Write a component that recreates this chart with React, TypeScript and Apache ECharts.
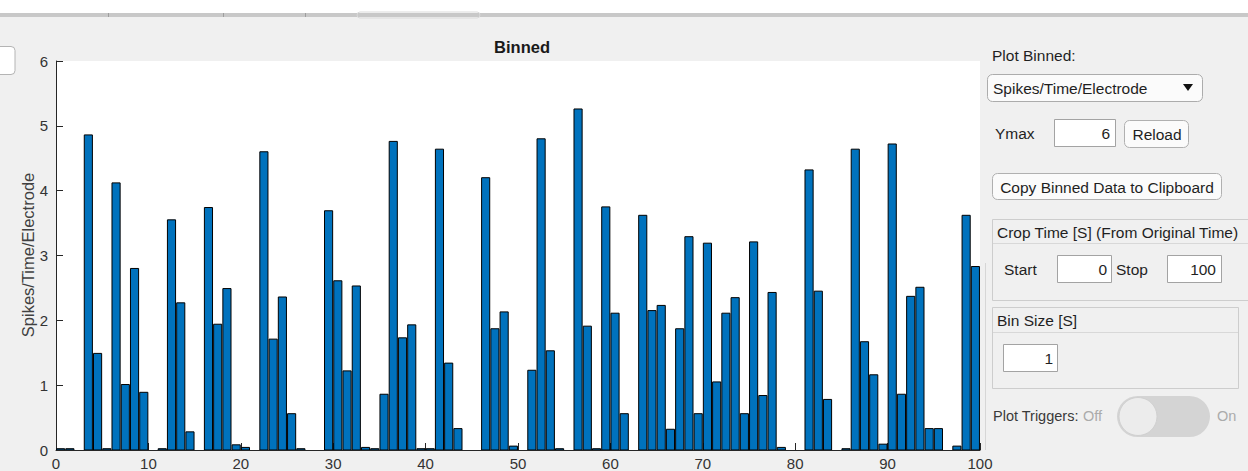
import { useEffect, useRef } from "react";
import * as echarts from "echarts";

// Binned spike rate (spikes / time / electrode), one value per 1 s bin from 0 to 100 s
const BIN_SIZE = 1;
const BAR_FRACTION = 0.88;
const spikeRates = [
  0.02, 0.02, 0, 4.86, 1.49, 0.02, 4.12, 1.01, 2.8, 0.89,
  0, 0.02, 3.55, 2.27, 0.28, 0, 3.74, 1.94, 2.49, 0.08,
  0.04, 0, 4.6, 1.71, 2.36, 0.56, 0.02, 0, 0, 3.69,
  2.61, 1.22, 2.53, 0.04, 0.02, 0.86, 4.76, 1.73, 1.93, 0.02,
  0.02, 4.64, 1.34, 0.33, 0, 0, 4.2, 1.87, 2.13, 0.06,
  0, 1.23, 4.8, 1.53, 0.02, 0, 5.26, 1.91, 0.02, 3.75,
  2.11, 0.56, 0, 3.62, 2.15, 2.23, 0.32, 1.87, 3.29, 0.56,
  3.19, 1.05, 2.11, 2.35, 0.56, 3.21, 0.84, 2.43, 0.04, 0,
  0, 4.32, 2.45, 0.78, 0, 0.02, 4.64, 1.67, 1.16, 0.09,
  4.72, 0.86, 2.37, 2.51, 0.33, 0.33, 0, 0.06, 3.62, 2.83,
];

// Axis limits and tick spacing
const X_MIN = 0;
const X_MAX = 100;
const X_STEP = 10;
const Y_MIN = 0;
const Y_MAX = 6;
const Y_STEP = 1;
const Y_LABEL = "Spikes/Time/Electrode";

// Side panel settings
const plotModes = ["Spikes/Time/Electrode"];
const cropStart = 0;
const cropStop = 100;

const FONT = "'Liberation Sans', Arial, Helvetica, sans-serif";
const UI_SIZE = 15.5;

function txt(
  x: number,
  y: number,
  text: string,
  opts: { color?: string; size?: number; align?: string; weight?: string } = {}
) {
  return {
    type: "text",
    x,
    y,
    silent: true,
    style: {
      text,
      fill: opts.color ?? "#1f1f1f",
      fontSize: opts.size ?? UI_SIZE,
      fontFamily: FONT,
      fontWeight: opts.weight ?? "normal",
      align: opts.align ?? "left",
      verticalAlign: "middle",
    },
  };
}

function box(
  x: number,
  y: number,
  w: number,
  h: number,
  opts: { fill?: string; stroke?: string; r?: number } = {}
) {
  return {
    type: "rect",
    silent: true,
    shape: { x, y, width: w, height: h, r: opts.r ?? 0 },
    style: {
      fill: opts.fill ?? "#ffffff",
      stroke: opts.stroke ?? "#a9a9a9",
      lineWidth: 1,
    },
  };
}

function hline(x1: number, x2: number, y: number, color: string) {
  return {
    type: "line",
    silent: true,
    shape: { x1, y1: y, x2, y2: y },
    style: { stroke: color, lineWidth: 1 },
  };
}

function vline(x: number, y1: number, y2: number, color: string) {
  return {
    type: "line",
    silent: true,
    shape: { x1: x, y1, x2: x, y2 },
    style: { stroke: color, lineWidth: 1 },
  };
}

export default function App() {
  const ref = useRef<HTMLDivElement>(null);

  useEffect(() => {
    if (!ref.current) return;
    const chart = echarts.init(ref.current, undefined, { renderer: "svg" });

    const barData = spikeRates
      .map((v, i) => [i * BIN_SIZE + BIN_SIZE / 2, v])
      .filter((d) => d[1] > 0);

    const graphic: any[] = [
      // window header strip and tab bar
      box(0, 0, 1248, 13, { fill: "#ffffff", stroke: "none" }),
      box(0, 13, 1248, 4, { fill: "#c8c8c8", stroke: "none" }),
      vline(108.5, 13, 17, "#9e9e9e"),
      vline(223.5, 13, 17, "#9e9e9e"),
      vline(305.5, 13, 17, "#9e9e9e"),
      box(357, 12, 123, 6, { fill: "none", stroke: "#dadada", r: 3 }),
      // edge of a control on the far left
      box(-10, 46.5, 25, 28, { fill: "#ffffff", stroke: "#b4b4b4", r: 4 }),
      // faint separator right of the axes
      vline(985.5, 263, 450, "#d6d6d6"),

      // y axis title
      {
        type: "text",
        x: 28,
        y: 255,
        rotation: Math.PI / 2,
        silent: true,
        style: {
          text: Y_LABEL,
          fill: "#404040",
          fontSize: 16.5,
          fontFamily: FONT,
          align: "center",
          verticalAlign: "middle",
        },
      },

      // Plot Binned dropdown
      txt(992, 55, "Plot Binned:"),
      box(987.5, 74.5, 215, 27, { fill: "#fbfbfb", stroke: "#acacac", r: 5 }),
      txt(993, 88, plotModes[0]),
      {
        type: "polygon",
        silent: true,
        shape: { points: [[1183, 84], [1193, 84], [1188, 91]] },
        style: { fill: "#111111" },
      },

      // Ymax input + Reload
      txt(995, 133, "Ymax"),
      box(1054.5, 119.5, 61, 27, { fill: "#ffffff", stroke: "#a3a3a3" }),
      txt(1110, 133, String(Y_MAX), { align: "right" }),
      box(1124.5, 120.5, 64, 27, { fill: "#fbfbfb", stroke: "#b0b0b0", r: 5 }),
      txt(1157, 134, "Reload", { align: "center" }),

      // Copy button
      box(992.5, 173.5, 229, 26, { fill: "#fbfbfb", stroke: "#b0b0b0", r: 5 }),
      txt(1107, 187, "Copy Binned Data to Clipboard", { align: "center" }),

      // Crop Time panel
      box(992.5, 219.5, 270, 81, { fill: "none", stroke: "#cdcdcd" }),
      hline(993, 1248, 243.5, "#d8d8d8"),
      txt(997, 232, "Crop Time [S] (From Original Time)"),
      txt(1004, 269, "Start"),
      box(1057.5, 255.5, 54, 27, { fill: "#ffffff", stroke: "#a3a3a3" }),
      txt(1107, 269, String(cropStart), { align: "right" }),
      txt(1116, 269, "Stop"),
      box(1167.5, 255.5, 54, 27, { fill: "#ffffff", stroke: "#a3a3a3" }),
      txt(1216, 269, String(cropStop), { align: "right" }),

      // Bin Size panel
      box(992.5, 307.5, 246, 81, { fill: "none", stroke: "#cdcdcd" }),
      hline(993, 1238, 332.5, "#d8d8d8"),
      txt(997, 320, "Bin Size [S]"),
      box(1003.5, 344.5, 54, 27, { fill: "#ffffff", stroke: "#a3a3a3" }),
      txt(1053, 358, String(BIN_SIZE), { align: "right" }),

      // Plot Triggers switch
      txt(993, 416, "Plot Triggers:", { color: "#3a3a3a", size: 14.5 }),
      txt(1083, 416, "Off", { color: "#ababab", size: 14.5 }),
      {
        type: "rect",
        silent: true,
        shape: { x: 1117, y: 396, width: 93, height: 41, r: 20.5 },
        style: { fill: "#d4d4d4" },
      },
      {
        type: "circle",
        silent: true,
        shape: { cx: 1138, cy: 416.5, r: 19 },
        style: { fill: "#ececec", stroke: "#d0d0d0", lineWidth: 1 },
      },
      txt(1217, 416, "On", { color: "#ababab", size: 14.5 }),
    ];

    // Each bin is a rectangle spanning BAR_FRACTION of the bin, from 0 up to its rate
    const renderBin = (_params: any, api: any) => {
      const center = api.value(0);
      const rate = api.value(1);
      const half = (BIN_SIZE * BAR_FRACTION) / 2;
      const topLeft = api.coord([center - half, rate]);
      const bottomRight = api.coord([center + half, 0]);
      return {
        type: "rect",
        shape: {
          x: topLeft[0],
          y: topLeft[1],
          width: bottomRight[0] - topLeft[0],
          height: bottomRight[1] - topLeft[1],
        },
        style: { fill: "#0072BD", stroke: "#000000", lineWidth: 1 },
      };
    };

    chart.setOption({
      animation: false,
      backgroundColor: "#f0f0f0",
      title: {
        text: "Binned",
        left: 517,
        top: 33,
        textAlign: "center",
        textStyle: {
          fontFamily: FONT,
          fontSize: 16.5,
          fontWeight: "bold",
          color: "#1a1a1a",
        },
      },
      grid: {
        left: 56,
        right: 268,
        top: 61,
        bottom: 21,
        show: true,
        backgroundColor: "#ffffff",
        borderWidth: 0,
      },
      xAxis: {
        type: "value",
        min: X_MIN,
        max: X_MAX,
        interval: X_STEP,
        axisLine: { lineStyle: { color: "#262626", width: 1 } },
        axisTick: { inside: true, length: 7, lineStyle: { color: "#262626" } },
        axisLabel: {
          color: "#333333",
          fontSize: 15,
          fontFamily: FONT,
          margin: 6,
        },
        splitLine: { show: false },
      },
      yAxis: {
        type: "value",
        min: Y_MIN,
        max: Y_MAX,
        interval: Y_STEP,
        axisLine: { show: true, lineStyle: { color: "#262626", width: 1 } },
        axisTick: { show: true, inside: true, length: 7, lineStyle: { color: "#262626" } },
        axisLabel: {
          color: "#333333",
          fontSize: 15,
          fontFamily: FONT,
          margin: 8,
        },
        splitLine: { show: false },
      },
      series: [
        {
          type: "custom",
          data: barData,
          encode: { x: 0, y: 1 },
          renderItem: renderBin,
          clip: true,
        },
      ],
      graphic,
    });

    return () => chart.dispose();
  }, []);

  return (
    <div
      ref={ref}
      style={{ position: "fixed", left: 0, top: 0, width: 1248, height: 471 }}
    />
  );
}
